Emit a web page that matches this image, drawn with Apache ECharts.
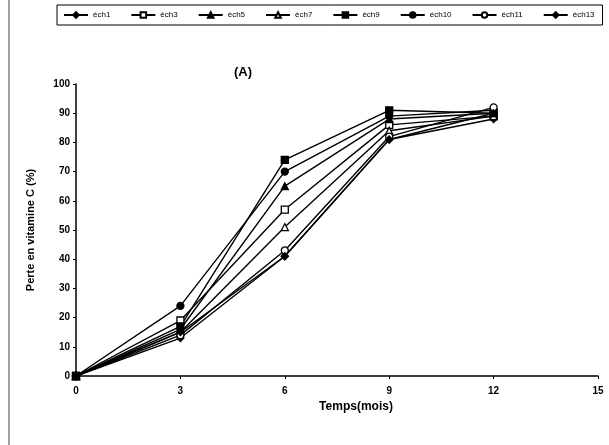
<!DOCTYPE html>
<html>
<head>
<meta charset="utf-8">
<script src="https://cdn.jsdelivr.net/npm/echarts@6/dist/echarts.min.js"></script>
<style>
  html, body { margin: 0; padding: 0; background: #fff; }
  #chart { width: 609px; height: 445px; }
</style>
</head>
<body>
<div id="chart"></div>
<script>
// données
var mois = [0, 3, 6, 9, 12];
var ech1 = [0, 13, 41, 81, 88];
var ech3 = [0, 19, 57, 86, 89];
var ech5 = [0, 16, 65, 88, 90];
var ech7 = [0, 15, 51, 84, 89];
var ech9 = [0, 17, 74, 91, 90];
var ech10 = [0, 24, 70, 89, 91];
var ech11 = [0, 14, 43, 82, 92];
var ech13 = [0, 15, 41, 81, 90];
var noms = ['éch1', 'éch3', 'éch5', 'éch7', 'éch9', 'éch10', 'éch11', 'éch13'];
var valeurs = [ech1, ech3, ech5, ech7, ech9, ech10, ech11, ech13];
var symboles = ['diamond', 'rect', 'triangle', 'triangle', 'rect', 'circle', 'circle', 'diamond'];
var creux = [false, true, false, true, false, false, true, false];

var myChart = echarts.init(document.getElementById('chart'));

var series = [];
for (var i = 0; i < noms.length; i++) {
	var pts = [];
	for (var j = 0; j < mois.length; j++) {
		pts.push([mois[j], valeurs[i][j]]);
	}
	series.push({
		name: noms[i],
		type: 'line',
		data: pts,
		symbol: symboles[i],
		symbolSize: 7,
		showAllSymbol: true,
		lineStyle: { color: '#000', width: 1.4 },
		itemStyle: {
			color: creux[i] ? '#fff' : '#000',
			borderColor: '#000',
			borderWidth: 1.3
		},
		emphasis: { disabled: true }
	});
}

var option = {
	backgroundColor: '#fff',
	animation: false,
	title: {
		text: '(A)',
		left: 229,
		top: 61,
		textStyle: { fontFamily: 'Liberation Sans', fontWeight: 'bold', fontSize: 13, color: '#000' }
	},
	legend: {
		left: 57,
		top: 5,
		width: 548,
		height: 22,
		padding: [6, 8, 6, 6],
		borderColor: '#000',
		borderWidth: 1,
		itemWidth: 24,
		itemHeight: 7,
		itemGap: 20,
		textStyle: { fontFamily: 'Liberation Sans', fontSize: 8, color: '#000' },
		data: noms
	},
	grid: {
		left: 76,
		right: 11,
		top: 84,
		bottom: 69
	},
	xAxis: {
		type: 'value',
		min: 0,
		max: 15,
		interval: 3,
		name: 'Temps(mois)',
		nameLocation: 'middle',
		nameGap: 23,
		nameTextStyle: { fontFamily: 'Liberation Sans', fontWeight: 'bold', fontSize: 12, color: '#000', padding: [0, 0, 0, 38] },
		axisLine: { lineStyle: { color: '#000', width: 1.5 } },
		axisTick: { inside: false, length: 3, lineStyle: { color: '#000' } },
		axisLabel: { fontFamily: 'Liberation Sans', fontWeight: 'bold', fontSize: 10, color: '#000', margin: 10 },
		splitLine: { show: false }
	},
	yAxis: {
		type: 'value',
		min: 0,
		max: 100,
		interval: 10,
		name: 'Perte en vitamine C (%)',
		nameLocation: 'middle',
		nameGap: 40,
		nameTextStyle: { fontFamily: 'Liberation Sans', fontWeight: 'bold', fontSize: 11, color: '#000' },
		axisLine: { show: true, lineStyle: { color: '#000', width: 1.5 } },
		axisTick: { show: true, length: 3, lineStyle: { color: '#000' } },
		axisLabel: { fontFamily: 'Liberation Sans', fontWeight: 'bold', fontSize: 10, color: '#000', margin: 6 },
		splitLine: { show: false }
	},
	graphic: [{
		type: 'line',
		shape: { x1: 9, y1: 0, x2: 9, y2: 445 },
		style: { stroke: '#444', lineWidth: 1 }
	}],
	series: series
};

myChart.setOption(option);
</script>
</body>
</html>
